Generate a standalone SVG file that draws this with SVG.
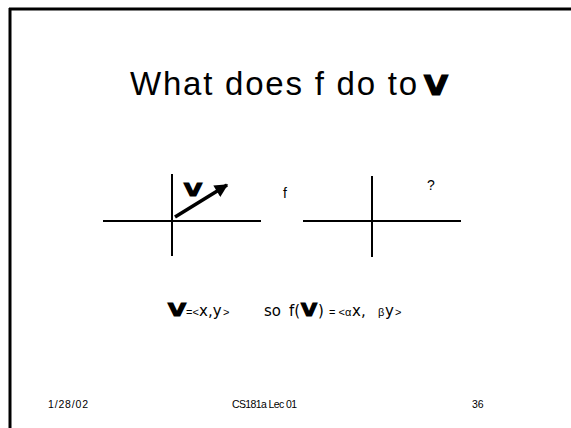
<svg xmlns="http://www.w3.org/2000/svg" width="571" height="428" viewBox="0 0 571 428">
<defs>
<style>
.t{font-family:"Liberation Sans",Arial,sans-serif;fill:#000}
.d{font-family:"DejaVu Sans",sans-serif;fill:#000}
.vs{font-family:"DejaVu Sans",sans-serif;font-weight:bold;fill:#000;stroke:#000;stroke-width:1.2}
.ax{stroke:#000;stroke-width:2;fill:none}
.sm{font-size:11px}
.lg{font-size:15px}
</style>
<marker id="ah" viewBox="0 0 10 10" refX="9" refY="5" markerWidth="4" markerHeight="3.8" orient="auto" markerUnits="strokeWidth">
<path d="M0,0 L10,5 L0,10 z" fill="#000"/>
</marker>
</defs>
<rect width="571" height="428" fill="#fff"/>
<g id="frame">
<line x1="9" y1="9" x2="571" y2="9" stroke="#000" stroke-width="3"/>
<line x1="10" y1="8" x2="10" y2="428" stroke="#000" stroke-width="3"/>
</g>
<g id="title">
<text class="t" x="130" y="95" font-size="33" textLength="287" lengthAdjust="spacing">What does f do to</text>
<text class="vs" x="424" y="95" font-size="26" textLength="24" lengthAdjust="spacingAndGlyphs">V</text>
</g>
<g id="left-axes">
<line class="ax" x1="103" y1="221" x2="261" y2="221"/>
<line class="ax" x1="172" y1="174" x2="172" y2="256"/>
</g>
<g id="vector">
<line x1="175" y1="217" x2="227" y2="185" stroke="#000" stroke-width="3.5" marker-end="url(#ah)"/>
<text class="vs" x="184" y="196" font-size="18" textLength="18" lengthAdjust="spacingAndGlyphs">V</text>
</g>
<g id="f-label">
<text class="t" x="283" y="198" font-size="14">f</text>
</g>
<g id="right-axes">
<line class="ax" x1="303" y1="221" x2="461" y2="221"/>
<line class="ax" x1="372" y1="176" x2="372" y2="257"/>
<text class="t" x="427" y="190" font-size="14">?</text>
</g>
<g id="formula">
<text class="vs" x="168" y="316" font-size="18" textLength="18" lengthAdjust="spacingAndGlyphs">V</text>
<text class="t sm" x="186" y="316">=&lt;</text>
<text class="d lg" x="199" y="316">x,y</text>
<text class="t sm" x="223" y="316">&gt;</text>
<text class="d lg" x="264" y="316">so</text>
<text class="d lg" x="289" y="316">f(</text>
<text class="vs" x="301" y="316" font-size="18" textLength="16" lengthAdjust="spacingAndGlyphs">V</text>
<text class="d lg" x="318" y="316">)</text>
<text class="t sm" x="329" y="316">= &lt;</text>
<text class="t sm" x="345" y="316">α</text>
<text class="d lg" x="352" y="316">x,</text>
<text class="t sm" x="378" y="316">β</text>
<text class="d lg" x="385" y="316">y</text>
<text class="t sm" x="395" y="316">&gt;</text>
</g>
<g id="footer">
<text class="t" x="48" y="408" font-size="10.5" textLength="40" lengthAdjust="spacing">1/28/02</text>
<text class="t" x="232" y="408" font-size="10.5" textLength="65" lengthAdjust="spacing">CS181a Lec 01</text>
<text class="t" x="472" y="408" font-size="10.5">36</text>
</g>
</svg>
